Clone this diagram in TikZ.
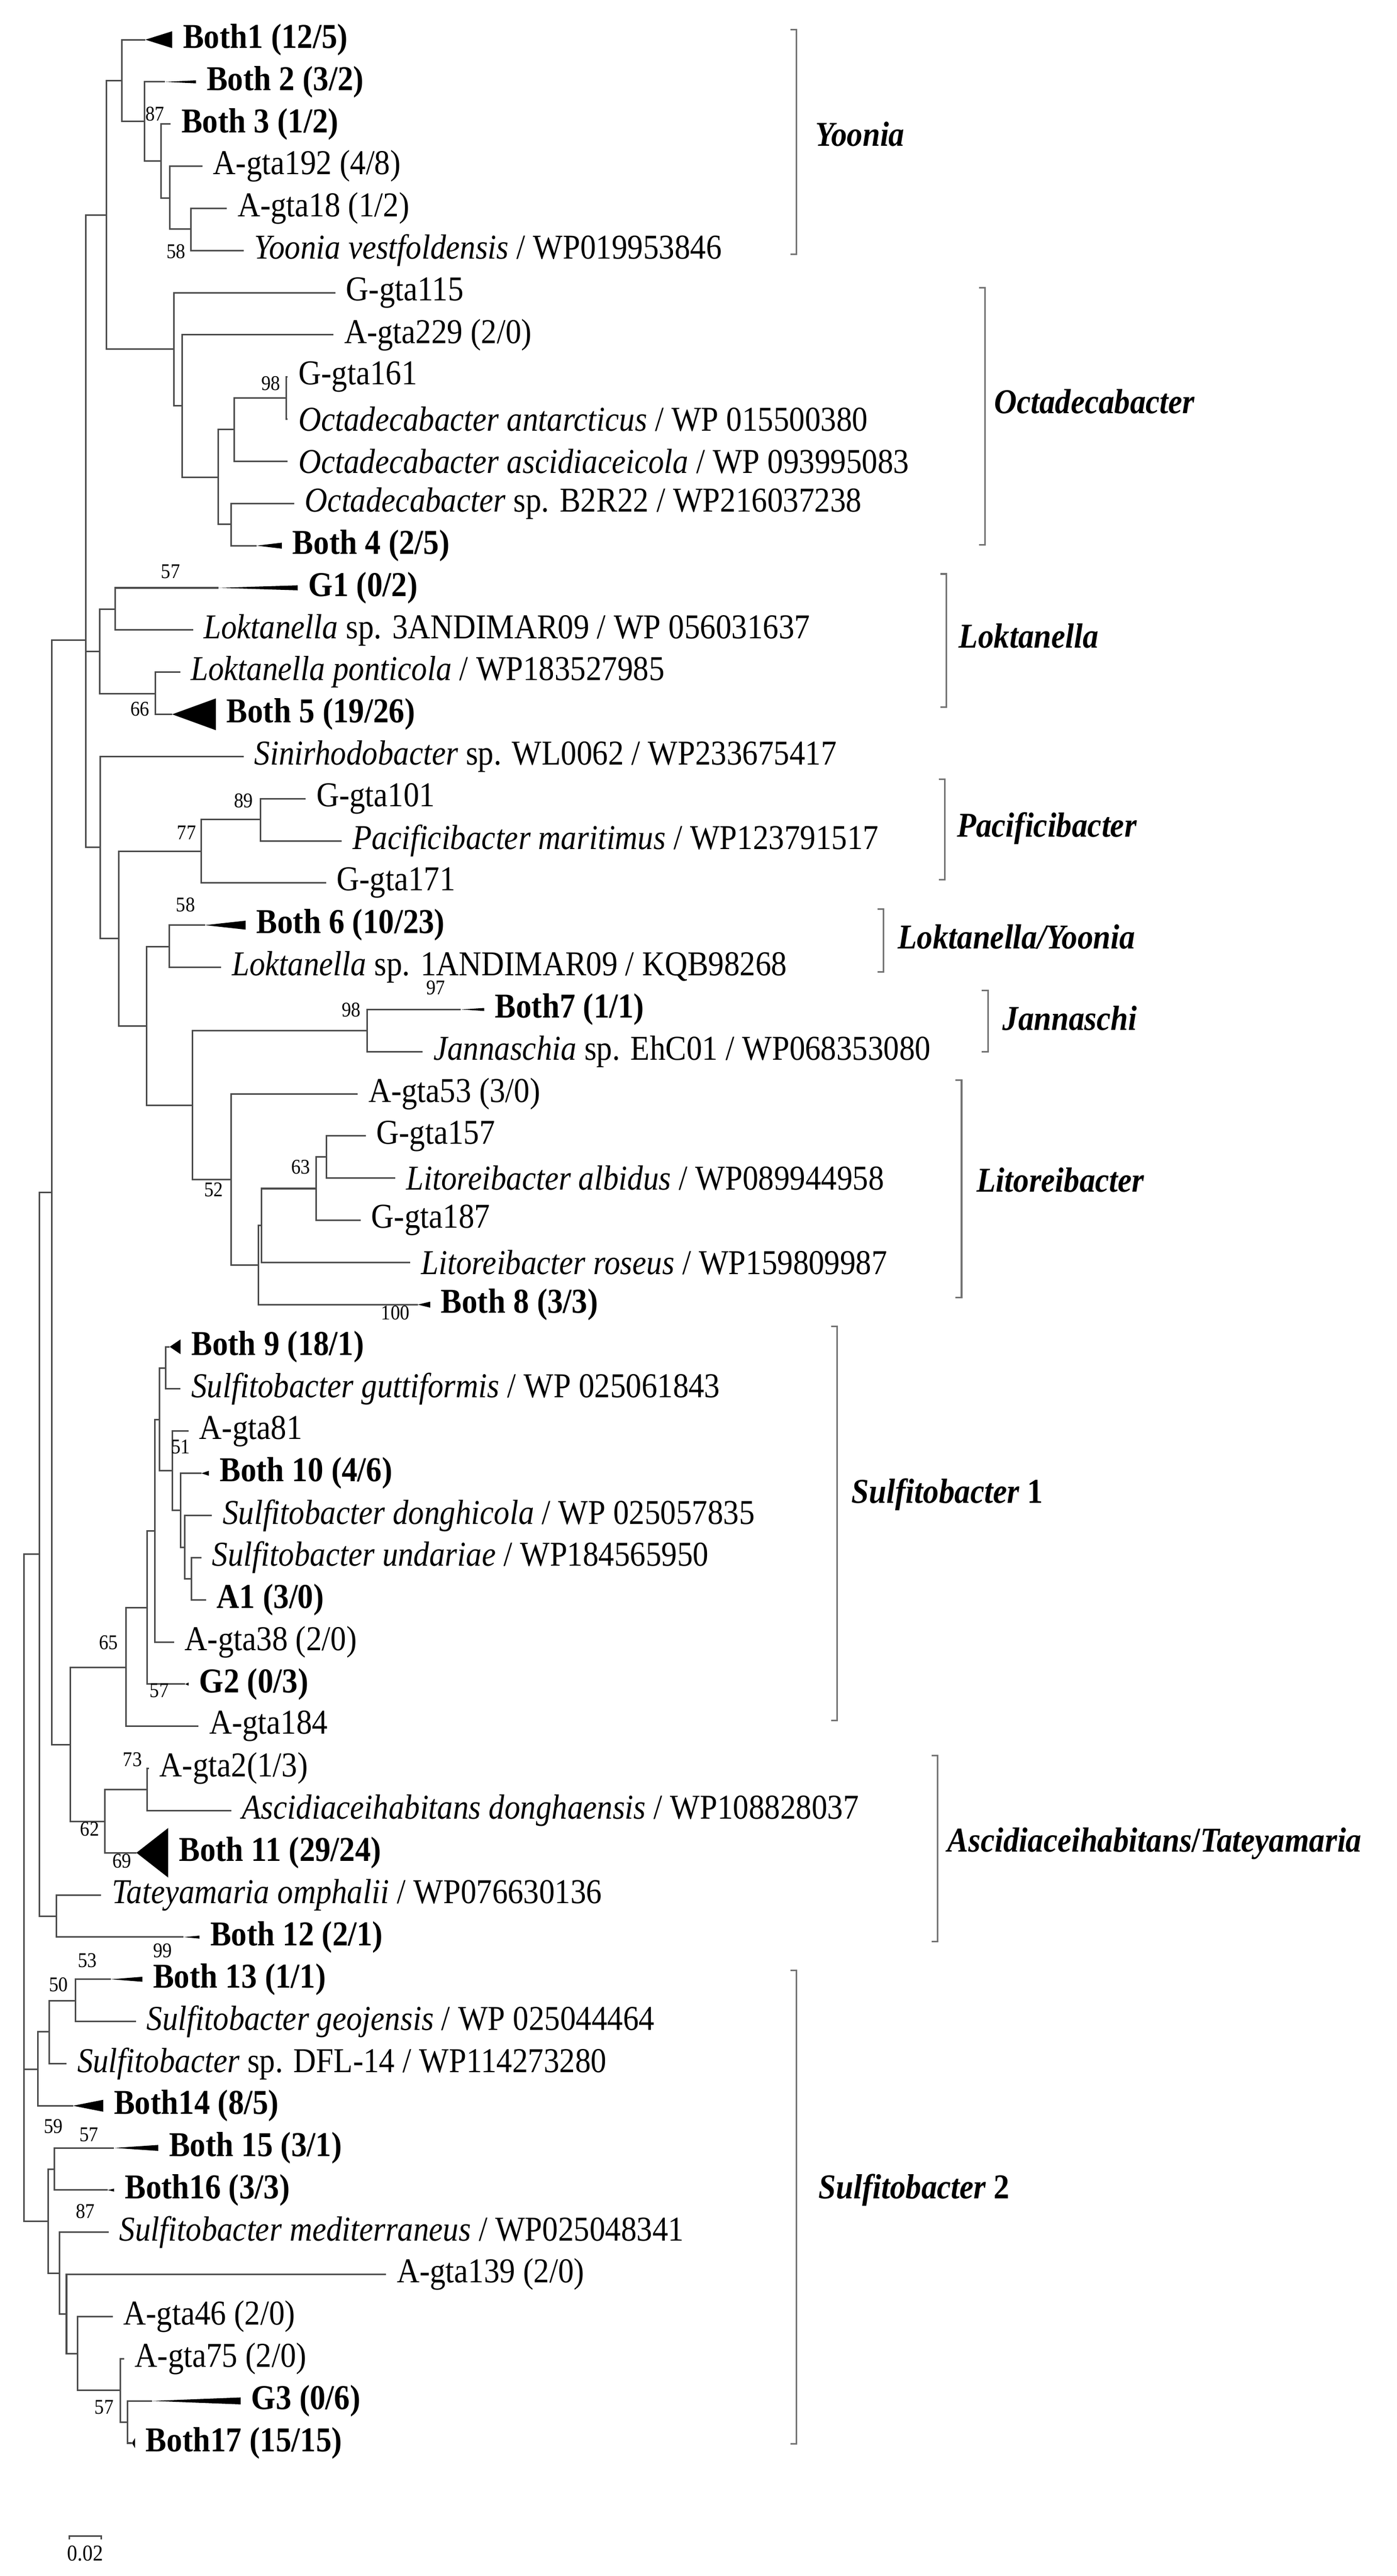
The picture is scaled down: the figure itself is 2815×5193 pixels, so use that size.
\documentclass[tikz,border=0pt]{standalone}
\usepackage{fontspec}
\setmainfont{Liberation Serif}[FakeStretch=0.9]
\usetikzlibrary{positioning}

\tikzset{
  br/.style={line width=0.9pt, black!70},
  brk/.style={line width=0.9pt, black!55},
  lf/.style={anchor=west, inner xsep=6pt, inner ysep=0pt, font=\fontsize{20}{22}\selectfont},
  lfb/.style={lf, font=\fontsize{20}{22}\selectfont\bfseries},
  bs/.style={inner sep=0pt, font=\fontsize{12}{13}\selectfont},
  grp/.style={anchor=west, inner sep=0pt, font=\fontsize{20}{22}\selectfont\bfseries\itshape},
}
% collapsed clade: tip x, base x, y, half height
\newcommand{\collapse}[4]{\fill (#1,#3) -- (#2,#3-#4) -- (#2,#3+#4) -- cycle;}

\begin{document}
\begin{tikzpicture}[x=0.01cm, y=-0.01cm]
\useasboundingbox (0,0) rectangle (2815,5193);

% ===================== LEAVES =====================
\coordinate (t1) at (293,80);   \collapse{293}{347}{80}{17}
\node[lfb] (l1) at (347,80) {Both1 (12/5)};
\coordinate (t2) at (332,165);  \collapse{332}{395}{165}{3}
\node[lfb] (l2) at (395,165) {Both 2 (3/2)};
\node[lfb] (l3) at (344,250) {Both 3 (1/2)};
\node[lf] (l4) at (408,335) {A-gta192 (4/8)};
\node[lf] (l5) at (457,420) {A-gta18 (1/2)};
\node[lf] (l6) at (491,505) {\textit{Yoonia vestfoldensis} / WP019953846};
\node[lf] (l7) at (676,590) {G-gta115};
\node[lf] (l8) at (672,675) {A-gta229 (2/0)};
\node[lf] (l9) at (580,760) {G-gta161};
\node[lf] (l10) at (580,845) {\textit{Octadecabacter antarcticus} / WP 015500380};
\node[lf] (l11) at (580,930) {\textit{Octadecabacter ascidiaceicola} / WP 093995083};
\node[lf] (l12) at (593,1015) {\textit{Octadecabacter} sp. B2R22 / WP216037238};
\coordinate (t13) at (517,1100); \collapse{517}{568}{1100}{6}
\node[lfb] (l13) at (568,1100) {Both 4 (2/5)};
\coordinate (t14) at (440,1185); \collapse{440}{600}{1185}{5}
\node[lfb] (l14) at (600,1185) {G1 (0/2)};
\node[lf] (l15) at (389,1270) {\textit{Loktanella} sp. 3ANDIMAR09 / WP 056031637};
\node[lf] (l16) at (363,1355) {\textit{Loktanella ponticola} / WP183527985};
\coordinate (t17) at (347,1440); \collapse{347}{435}{1440}{32}
\node[lfb] (l17) at (435,1440) {Both 5 (19/26)};
\node[lf] (l18) at (491,1525) {\textit{Sinirhodobacter} sp. WL0062 / WP233675417};
\node[lf] (l19) at (616,1610) {G-gta101};
\node[lf] (l20) at (689,1695) {\textit{Pacificibacter maritimus} / WP123791517};
\node[lf] (l21) at (657,1780) {G-gta171};
\coordinate (t22) at (413,1865); \collapse{413}{495}{1865}{9}
\node[lfb] (l22) at (495,1865) {Both 6 (10/23)};
\node[lf] (l23) at (446,1950) {\textit{Loktanella} sp. 1ANDIMAR09 / KQB98268};
\coordinate (t24) at (929,2035); \collapse{929}{976}{2035}{3}
\node[lfb] (l24) at (976,2035) {Both7 (1/1)};
\node[lf] (l25) at (852,2120) {\textit{Jannaschia} sp. EhC01 / WP068353080};
\node[lf] (l26) at (721,2205) {A-gta53 (3/0)};
\node[lf] (l27) at (737,2290) {G-gta157};
\node[lf] (l28) at (797,2375) {\textit{Litoreibacter albidus} / WP089944958};
\node[lf] (l29) at (727,2460) {G-gta187};
\node[lf] (l30) at (827,2545) {\textit{Litoreibacter roseus} / WP159809987};
\coordinate (t31) at (842,2630); \collapse{842}{867}{2630}{6}
\node[lfb] (l31) at (867,2630) {Both 8 (3/3)};
\coordinate (t32) at (342,2715); \collapse{342}{364}{2715}{15}
\node[lfb] (l32) at (364,2715) {Both 9 (18/1)};
\node[lf] (l33) at (364,2800) {\textit{Sulfitobacter guttiformis} / WP 025061843};
\node[lf] (l34) at (380,2885) {A-gta81};
\coordinate (t35) at (406,2970); \collapse{406}{421}{2970}{5}
\node[lfb] (l35) at (421,2970) {Both 10 (4/6)};
\node[lf] (l36) at (427,3055) {\textit{Sulfitobacter donghicola} / WP 025057835};
\node[lf] (l37) at (406,3140) {\textit{Sulfitobacter undariae} / WP184565950};
\node[lfb] (l38) at (415,3225) {A1 (3/0)};
\node[lf] (l39) at (351,3310) {A-gta38 (2/0)};
\coordinate (t40) at (373,3395); \collapse{373}{380}{3395}{3}
\node[lfb] (l40) at (380,3395) {G2 (0/3)};
\node[lf] (l41) at (400,3480) {A-gta184};
\node[lf] (l42) at (300,3565) {A-gta2(1/3)};
\node[lf] (l43) at (466,3650) {\textit{Ascidiaceihabitans donghaensis} / WP108828037};
\coordinate (t44) at (275,3735); \collapse{275}{339}{3735}{50}
\node[lfb] (l44) at (339,3735) {Both 11 (29/24)};
\node[lf] (l45) at (204,3820) {\textit{Tateyamaria omphalii} / WP076630136};
\coordinate (t46) at (370,3905); \collapse{370}{402}{3905}{3}
\node[lfb] (l46) at (402,3905) {Both 12 (2/1)};
\coordinate (t47) at (223,3990); \collapse{223}{287}{3990}{5}
\node[lfb] (l47) at (287,3990) {Both 13 (1/1)};
\node[lf] (l48) at (274,4075) {\textit{Sulfitobacter geojensis} / WP 025044464};
\node[lf] (l49) at (134,4160) {\textit{Sulfitobacter} sp. DFL-14 / WP114273280};
\coordinate (t50) at (147,4245); \collapse{147}{208}{4245}{12}
\node[lfb] (l50) at (208,4245) {Both14 (8/5)};
\coordinate (t51) at (230,4330); \collapse{230}{319}{4330}{6}
\node[lfb] (l51) at (319,4330) {Both 15 (3/1)};
\coordinate (t52) at (217,4415); \collapse{217}{230}{4415}{3}
\node[lfb] (l52) at (230,4415) {Both16 (3/3)};
\node[lf] (l53) at (219,4500) {\textit{Sulfitobacter mediterraneus} / WP025048341};
\node[lf] (l54) at (778,4585) {A-gta139 (2/0)};
\node[lf] (l55) at (227,4670) {A-gta46 (2/0)};
\node[lf] (l56) at (250,4755) {A-gta75 (2/0)};
\coordinate (t57) at (306,4840); \collapse{306}{485}{4840}{7}
\node[lfb] (l57) at (485,4840) {G3 (0/6)};
\coordinate (t58) at (266,4925); \collapse{266}{272}{4925}{10}
\node[lfb] (l58) at (272,4925) {Both17 (15/15)};

% ===================== INTERNAL NODES =====================
\coordinate (nY4) at (385,462);  \coordinate (nY3) at (342,399);
\coordinate (nY2) at (325,325);  \coordinate (nY1) at (291,245);
\coordinate (nY0) at (246,163);
\coordinate (nO5) at (577,802);  \coordinate (nO3) at (472,866);
\coordinate (nO4) at (466,1057); \coordinate (nO2) at (440,962);
\coordinate (nO1) at (367,818);  \coordinate (nO0) at (351,704);
\coordinate (nYO) at (214,434);
\coordinate (nL1) at (232,1228); \coordinate (nL2) at (313,1398);
\coordinate (nL0) at (201,1313);
\coordinate (nP1) at (525,1652); \coordinate (nP) at (406,1716);
\coordinate (nC1) at (341,1908); \coordinate (nJ) at (740,2078);
\coordinate (nLi4) at (658,2332); \coordinate (nLi3) at (637,2396);
\coordinate (nLi2) at (527,2470); \coordinate (nLi1) at (521,2550);
\coordinate (nLi) at (466,2378); \coordinate (nD) at (388,2228);
\coordinate (nC) at (295,2068);  \coordinate (nB1) at (239,1892);
\coordinate (nB) at (202,1708);  \coordinate (nA) at (173,1290);
\coordinate (nS1) at (334,2758); \coordinate (nS5) at (386,3183);
\coordinate (nS4) at (372,3119); \coordinate (nS3) at (364,3045);
\coordinate (nS2) at (347,2965); \coordinate (nS0) at (321,2862);
\coordinate (nS6) at (312,3086); \coordinate (nS7) at (297,3241);
\coordinate (nS8) at (254,3361); \coordinate (nAs1) at (297,3608);
\coordinate (nAs) at (211,3672); \coordinate (nS9) at (142,3517);
\coordinate (nN) at (104,2404);  \coordinate (nT) at (114,3863);
\coordinate (nM) at (79,3133);
\coordinate (nU1) at (152,4033); \coordinate (nU2) at (99,4096);
\coordinate (nU3) at (76,4171);  \coordinate (nU5) at (110,4373);
\coordinate (nU10) at (257,4883); \coordinate (nU9) at (243,4819);
\coordinate (nU8) at (156,4745); \coordinate (nU7) at (134,4665);
\coordinate (nU6) at (120,4583); \coordinate (nU4) at (97,4478);
\coordinate (nR) at (48,3806);

% ===================== BRANCHES =====================
\draw[br] (nY4) |- (l5.west)  (nY4) |- (l6.west);
\draw[br] (nY3) |- (l4.west)  (nY3) |- (nY4);
\draw[br] (nY2) |- (l3.west)  (nY2) |- (nY3);
\draw[br] (nY1) |- (t2)       (nY1) |- (nY2);
\draw[br] (nY0) |- (t1)       (nY0) |- (nY1);
\draw[br] (nO5) |- (l9.west)  (nO5) |- (l10.west);
\draw[br] (nO3) |- (nO5)      (nO3) |- (l11.west);
\draw[br] (nO4) |- (l12.west) (nO4) |- (t13);
\draw[br] (nO2) |- (nO3)      (nO2) |- (nO4);
\draw[br] (nO1) |- (l8.west)  (nO1) |- (nO2);
\draw[br] (nO0) |- (l7.west)  (nO0) |- (nO1);
\draw[br] (nYO) |- (nY0)      (nYO) |- (nO0);
\draw[br] (nL1) |- (t14)      (nL1) |- (l15.west);
\draw[br] (nL2) |- (l16.west) (nL2) |- (t17);
\draw[br] (nL0) |- (nL1)      (nL0) |- (nL2);
\draw[br] (nP1) |- (l19.west) (nP1) |- (l20.west);
\draw[br] (nP) |- (nP1)       (nP) |- (l21.west);
\draw[br] (nC1) |- (t22)      (nC1) |- (l23.west);
\draw[br] (nJ) |- (t24)       (nJ) |- (l25.west);
\draw[br] (nLi4) |- (l27.west) (nLi4) |- (l28.west);
\draw[br] (nLi3) |- (nLi4)    (nLi3) |- (l29.west);
\draw[br] (nLi2) |- (nLi3)    (nLi2) |- (l30.west);
\draw[br] (nLi1) |- (nLi2)    (nLi1) |- (t31);
\draw[br] (nLi) |- (l26.west) (nLi) |- (nLi1);
\draw[br] (nD) |- (nJ)        (nD) |- (nLi);
\draw[br] (nC) |- (nC1)       (nC) |- (nD);
\draw[br] (nB1) |- (nP)       (nB1) |- (nC);
\draw[br] (nB) |- (l18.west)  (nB) |- (nB1);
\draw[br] (nA) |- (nYO)  (nA) |- (nL0)  (nA) |- (nB);
\draw[br] (nS1) |- (t32)      (nS1) |- (l33.west);
\draw[br] (nS5) |- (l37.west) (nS5) |- (l38.west);
\draw[br] (nS4) |- (l36.west) (nS4) |- (nS5);
\draw[br] (nS3) |- (t35)      (nS3) |- (nS4);
\draw[br] (nS2) |- (l34.west) (nS2) |- (nS3);
\draw[br] (nS0) |- (nS1)      (nS0) |- (nS2);
\draw[br] (nS6) |- (nS0)      (nS6) |- (l39.west);
\draw[br] (nS7) |- (nS6)      (nS7) |- (t40);
\draw[br] (nS8) |- (nS7)      (nS8) |- (l41.west);
\draw[br] (nAs1) |- (l42.west) (nAs1) |- (l43.west);
\draw[br] (nAs) |- (nAs1)     (nAs) |- (t44);
\draw[br] (nS9) |- (nS8)      (nS9) |- (nAs);
\draw[br] (nN) |- (nA)        (nN) |- (nS9);
\draw[br] (nT) |- (l45.west)  (nT) |- (t46);
\draw[br] (nM) |- (nN)        (nM) |- (nT);
\draw[br] (nU1) |- (t47)      (nU1) |- (l48.west);
\draw[br] (nU2) |- (nU1)      (nU2) |- (l49.west);
\draw[br] (nU3) |- (nU2)      (nU3) |- (t50);
\draw[br] (nU5) |- (t51)      (nU5) |- (t52);
\draw[br] (nU10) |- (t57)     (nU10) |- (t58);
\draw[br] (nU9) |- (l56.west) (nU9) |- (nU10);
\draw[br] (nU8) |- (l55.west) (nU8) |- (nU9);
\draw[br] (nU7) |- (l54.west) (nU7) |- (nU8);
\draw[br] (nU6) |- (l53.west) (nU6) |- (nU7);
\draw[br] (nU4) |- (nU5)      (nU4) |- (nU6);
\draw[br] (nR) |- (nM)  (nR) |- (nU3)  (nR) |- (nU4);

% ===================== BOOTSTRAP =====================
\foreach \bx/\by/\bv in {312/230/87, 355/507/58, 546/773/98, 344/1152/57,
  282/1429/66, 491/1614/89, 376/1679/77, 374/1824/58, 878/1991/97,
  708/2036/98, 606/2353/63, 431/2398/52, 797/2646/100, 364/2917/51,
  321/3408/57, 219/3311/65, 267/3547/73, 181/3687/62, 246/3752/69,
  328/3932/99, 176/3952/53, 118/4001/50, 108/4287/59, 179/4303/57,
  172/4458/87, 210/4853/57}
  \node[bs] at (\bx,\by) {\bv};

% ===================== GROUPS =====================
\draw[brk] (1593,60) -- (1605,60) -- (1605,513) -- (1593,513);
\node[grp] (gYoo) at (1643,270) {Yoonia};
\draw[brk] (1973,580) -- (1985,580) -- (1985,1098) -- (1973,1098);
\node[grp] (gOct) at (2003,809) {Octadecabacter};
\draw[brk] (1895,1157) -- (1907,1157) -- (1907,1425) -- (1895,1425);
\node[grp] (gLok) at (1932,1282) {Loktanella};
\draw[brk] (1892,1571) -- (1904,1571) -- (1904,1773) -- (1892,1773);
\node[grp] (gPac) at (1928,1670) {Pacificibacter};
\draw[brk] (1769,1833) -- (1781,1833) -- (1781,1959) -- (1769,1959);
\node[grp] (gLY) at (1809,1888) {Loktanella/Yoonia};
\draw[brk] (1979,1997) -- (1991,1997) -- (1991,2120) -- (1979,2120);
\node[grp] (gJan) at (2020,2053) {Jannaschi};
\draw[brk] (1926,2177) -- (1938,2177) -- (1938,2616) -- (1926,2616);
\node[grp] (gLit) at (1968,2379) {Litoreibacter};
\draw[brk] (1675,2674) -- (1687,2674) -- (1687,3468) -- (1675,3468);
\node[grp] (gSu1) at (1716,3013) {Sulfitobacter \upshape 1};
\draw[brk] (1878,3539) -- (1890,3539) -- (1890,3914) -- (1878,3914);
\node[grp] (gAsc) at (1909,3716) {Ascidiaceihabitans\upshape/\itshape Tateyamaria};
\draw[brk] (1593,3972) -- (1605,3972) -- (1605,4927) -- (1593,4927);
\node[grp] (gSu2) at (1649,4415) {Sulfitobacter \upshape 2};

% ===================== SCALE =====================
\coordinate (sa) at (140,5112);
\coordinate (sb) at (204,5112);
\draw[br] ([yshift=-2pt]sa) -- (sa) -- (sb) -- ([yshift=-2pt]sb);
\node[bs, font=\fontsize{13}{14}\selectfont] (sc) at (172,5147) {0.02};

\end{tikzpicture}
\end{document}
